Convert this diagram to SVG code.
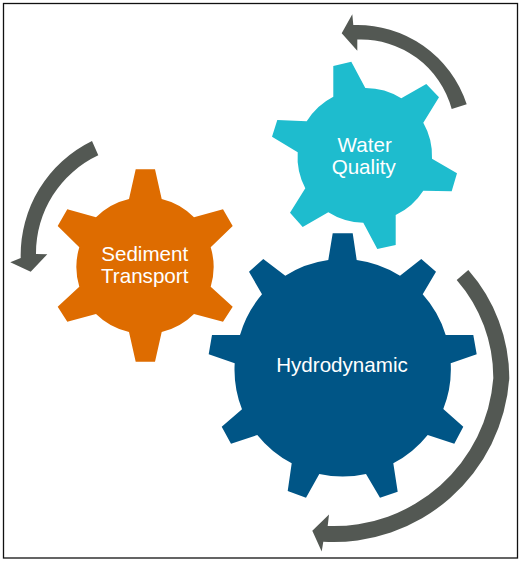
<svg xmlns="http://www.w3.org/2000/svg" width="521" height="561" viewBox="0 0 521 561">
<style>
text{font-family:"Liberation Sans",Arial,sans-serif;font-size:20.6px;fill:#fff;text-anchor:middle}
.arrow{fill:#535853}
</style>
<rect width="521" height="561" fill="#fff"/>
<rect x="3.5" y="3.5" width="514" height="554.5" fill="none" stroke="#111" stroke-width="1.3"/>
<g id="connectors">
<path class="arrow" d="M466.7,104.3A115,115 0 0 0 353.3,25L352.3,14.3L341.7,33.3L357.3,50.7L357.3,39.6A94,94 0 0 1 451.7,109Z"/>
<path class="arrow" d="M92,141A127,127 0 0 0 20.7,258L10.3,262.3L30.7,271.7L47.3,254.3L36,254A108,108 0 0 1 98.3,155.3Z"/>
<path class="arrow" d="M468.3,270A164.5,164.5 0 0 1 509.3,378.3A176,176 0 0 1 323.3,541.7L321.7,551.4L312.3,530.8L329,514.6L327.7,526A160,160 0 0 0 493.3,378.3A148.8,148.8 0 0 0 456.7,280Z"/>
</g>
<g id="water-quality">
<path fill="#1EBCCE" d="M333.3,66L351.3,61.7L365.3,88A67,67 0 0 1 401.3,98.3L426.3,84L439,97.3L423.3,122.7A67,67 0 0 1 432,158.7L457,173.3L451.7,191.3L423.3,190.7A67,67 0 0 1 395.7,215L395.7,245L377.3,249L363.3,222.7A67,67 0 0 1 328.3,212.3L302.7,227L290,212.7L305.3,188.3A67,67 0 0 1 297.7,152.3L272,136.7L277.3,120L306.7,121.3A67,67 0 0 1 333.3,96.7Z"/>
<text x="364.7" y="151.7">Water</text>
<text x="363.7" y="173.5">Quality</text>
</g>
<g id="sediment-transport">
<path fill="#DE6C00" d="M135.7,169.3L155,169.3L161.7,199A68,68 0 0 1 194,217.3L223,209.3L232.7,226L210.7,247.3A68,68 0 0 1 210.7,286.7L232.7,306.7L223,321.7L194,314A68,68 0 0 1 161.7,332L155,361.7L135.7,361.7L129,332A68,68 0 0 1 96,314L67.3,321.7L57.7,306.7L79.3,286.7A68,68 0 0 1 79.3,247.3L57.7,226L67.3,209.3L96,217.3A68,68 0 0 1 129,199Z"/>
<text x="144.7" y="260.7">Sediment</text>
<text x="144.7" y="282.7">Transport</text>
</g>
<g id="hydrodynamic">
<path fill="#005586" d="M332.7,233.3L352.7,233.3L356.7,260A108,108 0 0 1 400,275.7L421.3,259L436,271.7L422.7,294.3A108,108 0 0 1 445.7,335L473.3,335L476.7,354.3L450.7,363.3A108,108 0 0 1 443.3,409L463.3,426.7L454.3,443.7L427.7,435A108,108 0 0 1 393.3,463.3L397.7,491.7L380,497.7L366,474A108,108 0 0 1 319.3,474L306,497.7L287.7,491L291.7,463.3A108,108 0 0 1 257.3,435L231,443.7L221.7,426.7L242,409.3A108,108 0 0 1 234.7,363.3L208.7,354.3L212,335L240,335A108,108 0 0 1 262,294.3L249,271.7L263.3,259L285.3,275.7A108,108 0 0 1 328.3,260Z"/>
<text x="342" y="371.7">Hydrodynamic</text>
</g>
</svg>
